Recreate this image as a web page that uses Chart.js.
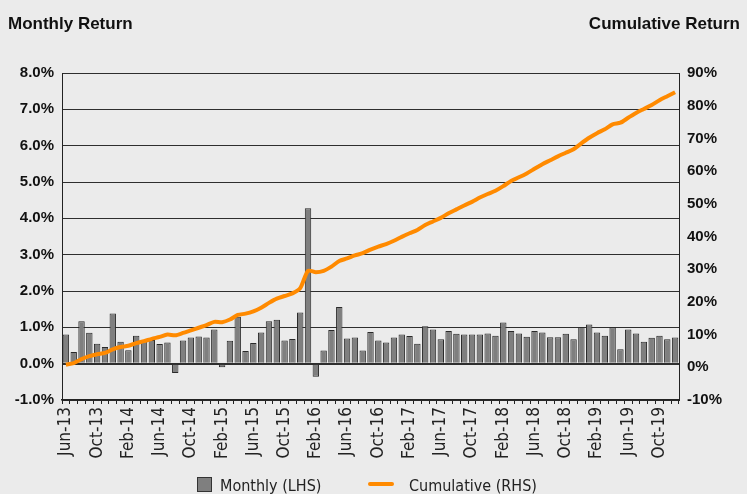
<!DOCTYPE html>
<html>
<head>
<meta charset="utf-8">
<script src="https://cdn.jsdelivr.net/npm/chart.js@4.4.1/dist/chart.umd.min.js"></script>
<style>
  html, body { margin: 0; padding: 0; background: #ebebeb; }
  canvas { display: block; }
</style>
</head>
<body>
<canvas id="returnsChart" width="747" height="494"></canvas>
<script>
const months = [
  'Jun-13', 'Jul-13', 'Aug-13', 'Sep-13', 'Oct-13', 'Nov-13', 'Dec-13',
  'Jan-14', 'Feb-14', 'Mar-14', 'Apr-14', 'May-14', 'Jun-14', 'Jul-14', 'Aug-14', 'Sep-14', 'Oct-14', 'Nov-14', 'Dec-14',
  'Jan-15', 'Feb-15', 'Mar-15', 'Apr-15', 'May-15', 'Jun-15', 'Jul-15', 'Aug-15', 'Sep-15', 'Oct-15', 'Nov-15', 'Dec-15',
  'Jan-16', 'Feb-16', 'Mar-16', 'Apr-16', 'May-16', 'Jun-16', 'Jul-16', 'Aug-16', 'Sep-16', 'Oct-16', 'Nov-16', 'Dec-16',
  'Jan-17', 'Feb-17', 'Mar-17', 'Apr-17', 'May-17', 'Jun-17', 'Jul-17', 'Aug-17', 'Sep-17', 'Oct-17', 'Nov-17', 'Dec-17',
  'Jan-18', 'Feb-18', 'Mar-18', 'Apr-18', 'May-18', 'Jun-18', 'Jul-18', 'Aug-18', 'Sep-18', 'Oct-18', 'Nov-18', 'Dec-18',
  'Jan-19', 'Feb-19', 'Mar-19', 'Apr-19', 'May-19', 'Jun-19', 'Jul-19', 'Aug-19', 'Sep-19', 'Oct-19', 'Nov-19', 'Dec-19'
];

// monthly return, % (left axis)
const monthly = [
  0.80, 0.32, 1.17, 0.85, 0.55, 0.46, 1.38,
  0.60, 0.37, 0.77, 0.62, 0.65, 0.54, 0.58, -0.26, 0.64, 0.72, 0.75, 0.72,
  0.94, -0.10, 0.63, 1.29, 0.35, 0.57, 0.86, 1.17, 1.21, 0.64, 0.68, 1.41,
  4.28, -0.36, 0.36, 0.93, 1.56, 0.69, 0.72, 0.36, 0.87, 0.64, 0.58, 0.72,
  0.80, 0.76, 0.55, 1.03, 0.94, 0.67, 0.90, 0.82, 0.80, 0.80, 0.80, 0.83,
  0.77, 1.13, 0.90, 0.83, 0.74, 0.90, 0.86, 0.73, 0.73, 0.82, 0.67, 1.01,
  1.08, 0.86, 0.77, 1.00, 0.40, 0.94, 0.83, 0.60, 0.71, 0.77, 0.67, 0.72
];

// cumulative return, % (right axis)
const cumulative = [
  0.8, 1.3, 2.5, 3.4, 4.0, 4.4, 5.5,
  6.2, 6.6, 7.4, 8.0, 8.7, 9.3, 10.0, 9.8, 10.5, 11.3, 12.1, 12.9,
  13.9, 13.8, 14.6, 16.0, 16.4, 17.1, 18.2, 19.7, 21.0, 21.8, 22.6, 24.2,
  29.5, 29.1, 29.5, 30.8, 32.5, 33.3, 34.2, 34.9, 36.0, 36.9, 37.7, 38.7,
  39.9, 41.0, 42.0, 43.5, 44.6, 45.7, 47.1, 48.3, 49.5, 50.6, 51.9, 53.0,
  54.0, 55.4, 57.0, 58.1, 59.3, 60.7, 62.1, 63.3, 64.5, 65.6, 66.7, 68.5,
  70.2, 71.6, 72.8, 74.3, 74.8, 76.3, 77.8, 79.0, 80.2, 81.7, 82.9, 84.1
];

const xTickLabels = ['Jun-13', 'Oct-13', 'Feb-14', 'Jun-14', 'Oct-14', 'Feb-15', 'Jun-15', 'Oct-15',
  'Feb-16', 'Jun-16', 'Oct-16', 'Feb-17', 'Jun-17', 'Oct-17', 'Feb-18', 'Jun-18', 'Oct-18',
  'Feb-19', 'Jun-19', 'Oct-19'];

const FONT = "'Liberation Sans', Arial, sans-serif";
const NARROW = "'Liberation Sans Narrow', 'Arial Narrow', 'DejaVu Sans Condensed', sans-serif";
const ORANGE = '#ff8a00';
const BAR_FILL = '#7f7f7f';

// titles above the axes + legend at the bottom
const extras = {
  id: 'extras',
  afterDraw(chart) {
    const ctx = chart.ctx;
    ctx.save();
    ctx.fillStyle = '#111';
    ctx.font = 'bold 17px ' + FONT;
    ctx.textAlign = 'left';
    ctx.textBaseline = 'alphabetic';
    ctx.fillText('Monthly Return', 8, 29);
    ctx.textAlign = 'right';
    ctx.fillText('Cumulative Return', 740, 29);

    // legend
    ctx.fillStyle = BAR_FILL;
    ctx.strokeStyle = '#333';
    ctx.lineWidth = 1;
    ctx.fillRect(197.5, 477.5, 14, 14);
    ctx.strokeRect(197.5, 477.5, 14, 14);
    ctx.strokeStyle = ORANGE;
    ctx.lineWidth = 4;
    ctx.lineCap = 'round';
    ctx.beginPath();
    ctx.moveTo(370, 484);
    ctx.lineTo(392, 484);
    ctx.stroke();
    ctx.fillStyle = '#222';
    ctx.font = '16px ' + NARROW;
    ctx.textAlign = 'left';
    ctx.fillText('Monthly (LHS)', 220, 491);
    ctx.fillText('Cumulative (RHS)', 409, 491);
    ctx.restore();
  }
};

new Chart(document.getElementById('returnsChart'), {
  data: {
    labels: months,
    datasets: [{
      type: 'line',
      label: 'Cumulative (RHS)',
      data: cumulative,
      yAxisID: 'y1',
      borderColor: ORANGE,
      borderWidth: 4,
      pointRadius: 0,
      tension: 0.25,
      order: 0
    }, {
      type: 'bar',
      label: 'Monthly (LHS)',
      data: monthly,
      yAxisID: 'y',
      backgroundColor: BAR_FILL,
      borderColor: '#2a2a2a',
      borderWidth: 1,
      barPercentage: 0.82,
      categoryPercentage: 1.0,
      order: 1
    }]
  },
  options: {
    responsive: false,
    devicePixelRatio: 1,
    animation: false,
    layout: {
      padding: { top: 73, left: 0, right: 0, bottom: 0 }
    },
    scales: {
      x: {
        offset: true,
        grid: {
          display: true,
          offset: true,
          drawOnChartArea: false,
          tickLength: 4,
          color: '#222'
        },
        border: { color: '#222', width: 1.5 },
        ticks: {
          autoSkip: false,
          maxRotation: 90,
          minRotation: 90,
          padding: 3,
          color: '#222',
          font: { family: NARROW, size: 17 },
          callback: function (val, idx) {
            const m = months[idx];
            return xTickLabels.includes(m) ? m : '';
          }
        },
        afterFit: function (scale) { scale.height = 94; }
      },
      y: {
        position: 'left',
        min: -1,
        max: 8,
        grid: {
          color: '#2e2e2e',
          drawTicks: false,
          lineWidth: function (c) { return c.tick && c.tick.value === 0 ? 2 : 1; }
        },
        border: { color: '#222', width: 1 },
        ticks: {
          stepSize: 1,
          padding: 8,
          color: '#111',
          font: { family: FONT, size: 15, weight: 'bold' },
          callback: function (v) { return v.toFixed(1) + '%'; }
        },
        afterFit: function (scale) { scale.width = 62; }
      },
      y1: {
        position: 'right',
        min: -10,
        max: 90,
        grid: { display: false, drawTicks: false },
        border: { color: '#222', width: 1 },
        ticks: {
          stepSize: 10,
          padding: 8,
          color: '#111',
          font: { family: FONT, size: 15, weight: 'bold' },
          callback: function (v) { return v + '%'; }
        },
        afterFit: function (scale) { scale.width = 68; }
      }
    },
    plugins: {
      legend: { display: false },
      tooltip: { enabled: false }
    }
  },
  plugins: [extras]
});
</script>
</body>
</html>
